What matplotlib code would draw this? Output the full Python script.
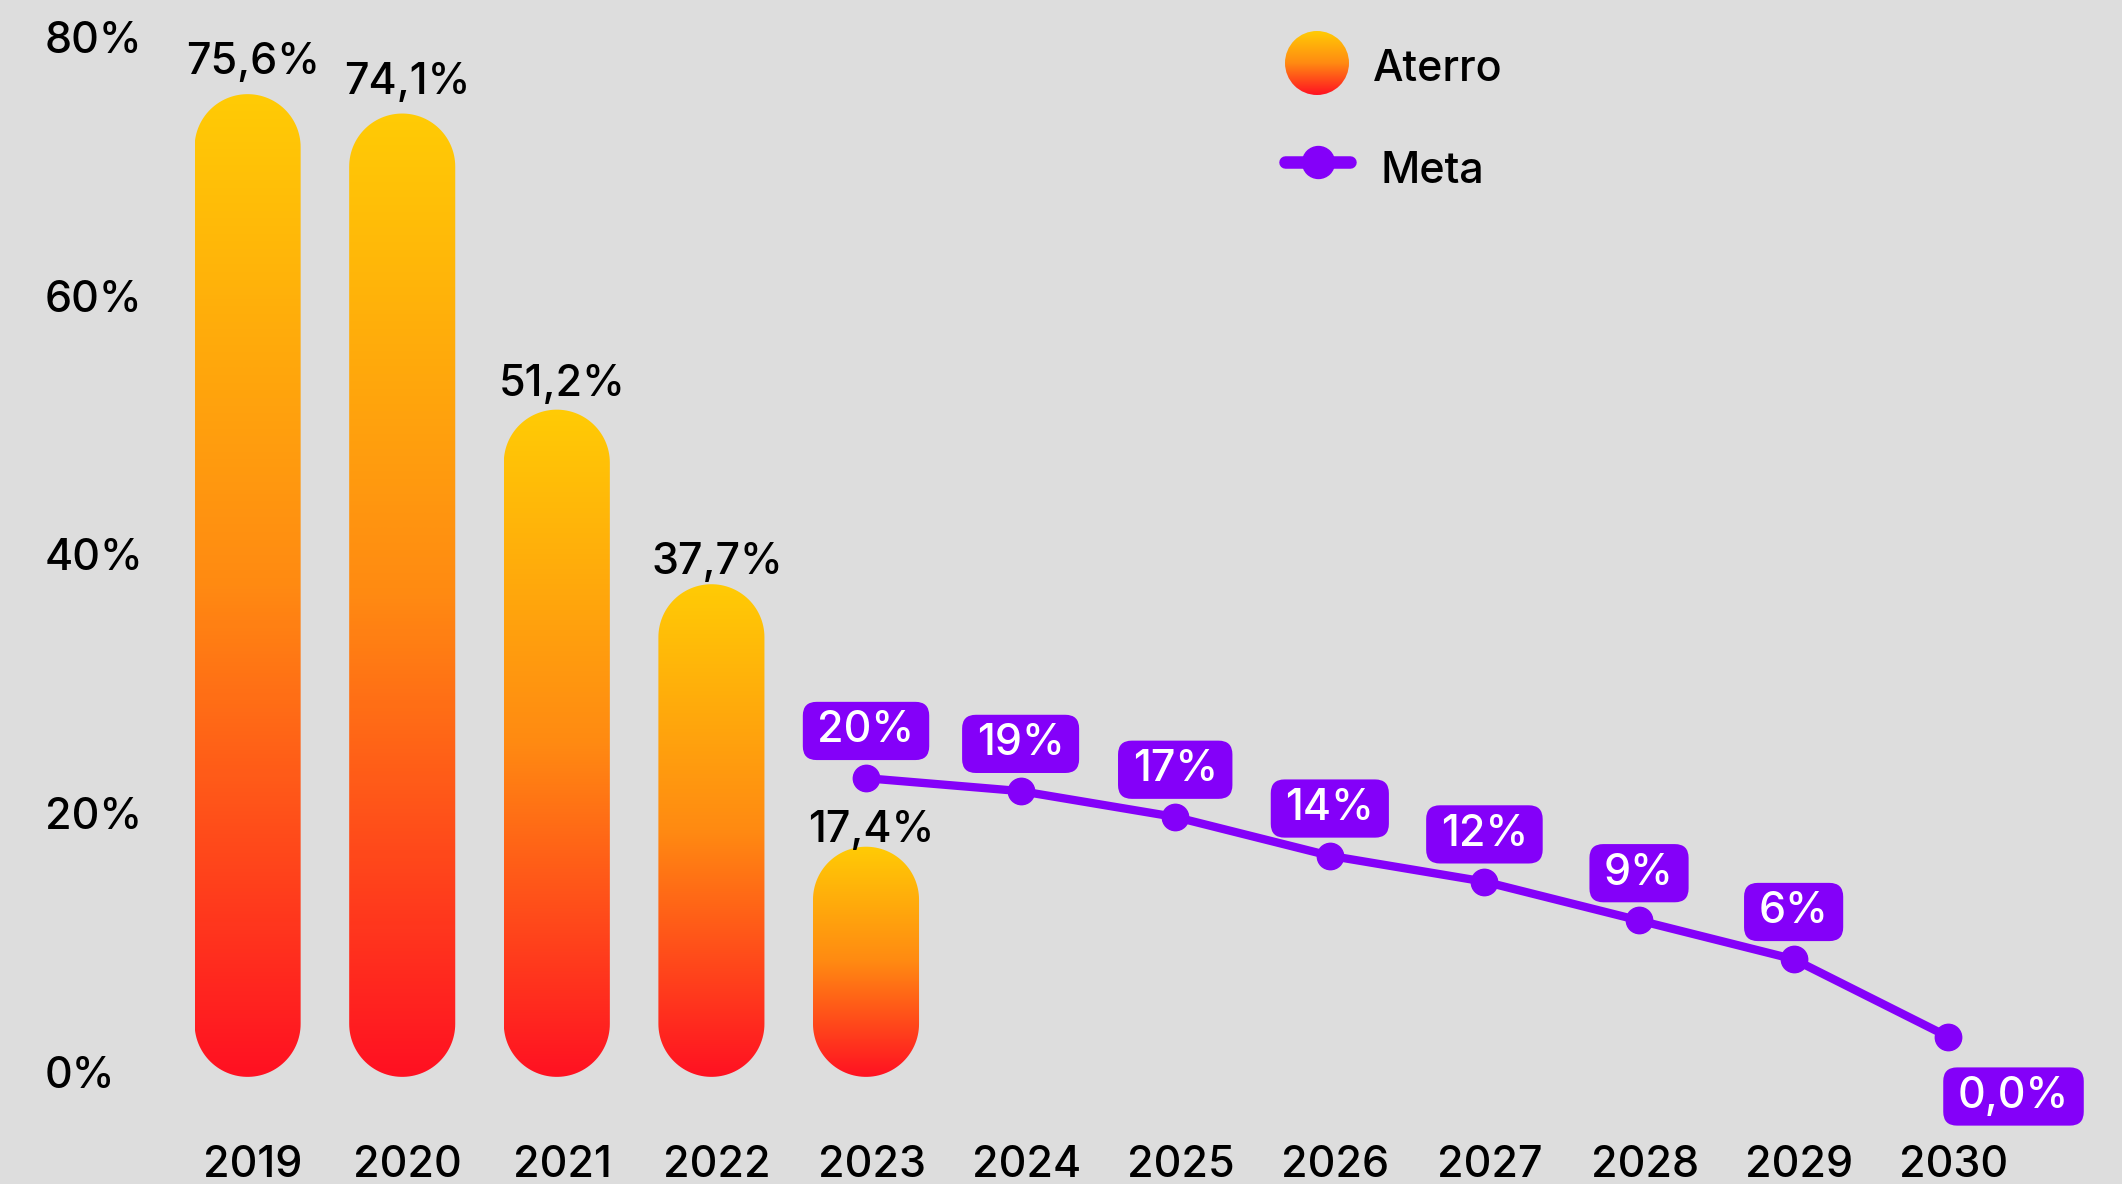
import matplotlib.pyplot as plt
import numpy as np
from matplotlib.colors import LinearSegmentedColormap
from matplotlib.patches import Polygon, Circle, BoxStyle
from matplotlib.lines import Line2D
from matplotlib.transforms import ScaledTranslation

# dados
anos = ['2019', '2020', '2021', '2022', '2023', '2024', '2025', '2026', '2027', '2028', '2029', '2030']
aterro_anos = ['2019', '2020', '2021', '2022', '2023']
aterro = [75.6, 74.1, 51.2, 37.7, 17.4]
aterro_rotulos = ['75,6%', '74,1%', '51,2%', '37,7%', '17,4%']
meta_anos = ['2023', '2024', '2025', '2026', '2027', '2028', '2029', '2030']
meta = [20, 19, 17, 14, 12, 9, 6, 0]
meta_rotulos = ['20%', '19%', '17%', '14%', '12%', '9%', '6%', '0,0%']
y_ticks = [0, 20, 40, 60, 80]

plt.rcParams['font.family'] = ['Inter', 'DejaVu Sans']
plt.rcParams['font.weight'] = 'medium'

fundo = '#DDDDDD'
roxo = '#8400F9'
cmap = LinearSegmentedColormap.from_list('aterro', ['#FF1122', '#FF8A12', '#FFCB05'])
gradiente = np.linspace(0, 1, 256).reshape(-1, 1)
fs = 31

fig = plt.figure(figsize=(21.22, 11.84), dpi=100)
fig.patch.set_facecolor(fundo)
ax = fig.add_axes([0, 64 / 1184, 1, 1120 / 1184])
ax.set_facecolor(fundo)
xlim = (-1.6016, 12.124)
ylim = (-3.735, 82.88)
ax.set_xlim(*xlim)
ax.set_ylim(*ylim)

# razão de escala (unidades y por unidade x no mesmo comprimento em pixels)
p0 = ax.transData.transform((0, 0))
p1 = ax.transData.transform((1, 1))
aspecto = (p1[0] - p0[0]) / (p1[1] - p0[1])


def pilula(xc, y0, y1, w):
    r = w / 2
    ry = r * aspecto
    t = np.linspace(0, np.pi, 60)
    topo = np.column_stack([xc + r * np.cos(t), y1 - ry + ry * np.sin(t)])
    fundo_ = np.column_stack([xc - r * np.cos(t), y0 + ry - ry * np.sin(t)])
    return Polygon(np.vstack([topo, fundo_]), closed=True, facecolor='none', edgecolor='none')


largura = 0.686
base = -0.4
for ano, val in zip(aterro_anos, aterro):
    xi = anos.index(ano)
    caixa = pilula(xi, base, val, largura)
    ax.add_patch(caixa)
    im = ax.imshow(gradiente, cmap=cmap, origin='lower', aspect='auto', interpolation='bicubic',
                   extent=[xi - largura / 2, xi + largura / 2, base, val])
    im.set_clip_path(caixa)

ax.set_xlim(*xlim)
ax.set_ylim(*ylim)
ax.set_xticks(range(len(anos)), anos)
ax.set_yticks(y_ticks, [f'{v}%' for v in y_ticks])
ax.tick_params(axis='both', length=0, labelsize=fs, colors='black')
ax.tick_params(axis='y', pad=-32.4)
ax.tick_params(axis='x', pad=18.2)
for lbl in ax.get_yticklabels():
    lbl.set_ha('left')
for lbl in ax.get_xticklabels():
    lbl.set_transform(lbl.get_transform() + ScaledTranslation(4 / 72, 0, fig.dpi_scale_trans))
for s in ax.spines.values():
    s.set_visible(False)

# rótulos das barras (escala levemente esticada, como no original)
ax3 = ax.twinx()
ax3.set_ylim(ylim[0] / 1.0206, ylim[1] / 1.0206)
ax3.axis('off')
for ano, val, rot in zip(aterro_anos, aterro, aterro_rotulos):
    ax3.annotate(rot, (anos.index(ano), val), xytext=(4, 0), textcoords='offset points',
                 ha='center', va='baseline', fontsize=fs, color='black')


def caixa_meta(x0, y0, width, height, mutation_size):
    px, py = 0.34 * mutation_size, 0.2 * mutation_size
    return BoxStyle.Round(pad=0, rounding_size=0.32)(
        x0 - px, y0 - py, width + 2 * px, height + 2 * py, mutation_size)


# meta
ax2 = ax.twinx()
ax2.set_ylim(ylim[0] - 2.7, ylim[1] - 2.7)
ax2.axis('off')
mx = [anos.index(a) for a in meta_anos]
ax2.plot(mx, meta, color=roxo, lw=6, marker='o', ms=19, solid_capstyle='round', zorder=3)
for i, (xi, v, rot) in enumerate(zip(mx, meta, meta_rotulos)):
    desl = (0, 34) if i < len(meta) - 1 else (47, -43)
    ax2.annotate(rot, (xi, v), xytext=desl, textcoords='offset points', ha='center', va='center',
                 fontsize=fs, color='white', zorder=4,
                 bbox=dict(boxstyle=caixa_meta, fc=roxo, ec='none'))

# legenda
W, H = 2122, 1184
lax = fig.add_axes([1285 / W, 1 - 95 / H, 64 / W, 64 / H])
lim = lax.imshow(gradiente, cmap=cmap, origin='lower', extent=[0, 1, 0, 1], aspect='auto')
lim.set_clip_path(Circle((0.5, 0.5), 0.5, transform=lax.transAxes))
lax.axis('off')
fig.text(1373 / W, 1 - 81 / H, 'Aterro', va='baseline', fontsize=fs)
fig.add_artist(Line2D([1285 / W, 1350 / W], [1 - 162 / H] * 2, transform=fig.transFigure,
                      color=roxo, lw=9, solid_capstyle='round'))
fig.add_artist(Line2D([1317.5 / W], [1 - 162 / H], transform=fig.transFigure,
                      color=roxo, marker='o', ms=23))
fig.text(1380 / W, 1 - 183 / H, 'Meta', va='baseline', fontsize=fs)

fig.savefig('out.png', dpi=100, facecolor=fundo)
